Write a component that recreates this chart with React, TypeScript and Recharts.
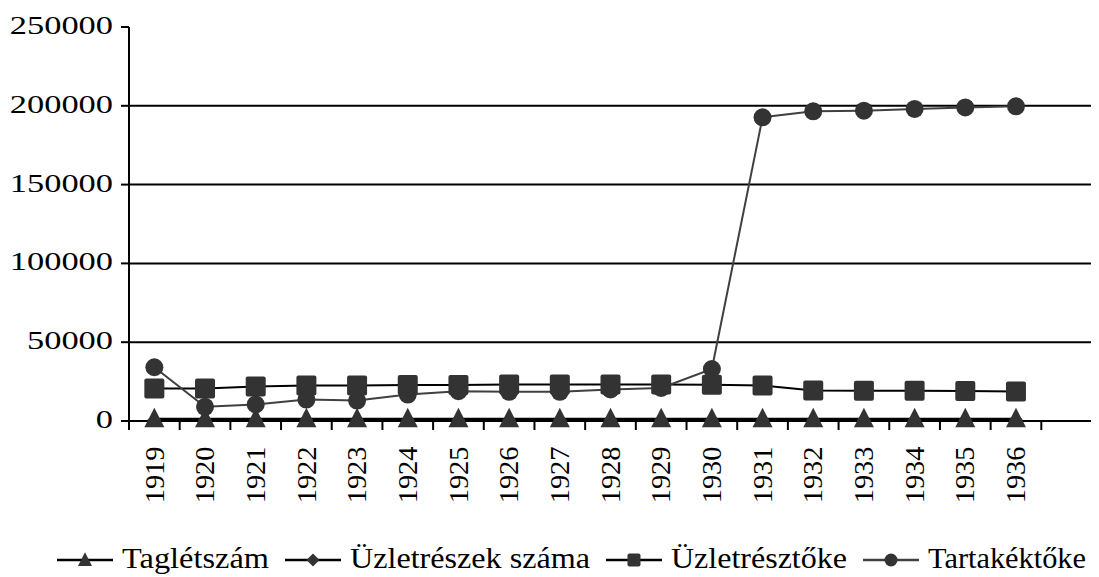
import { LineChart, Line, XAxis, YAxis, ReferenceLine, Legend } from "recharts"

const FONT = "'Liberation Serif', 'Times New Roman', serif"

const YEARS = [
  "1919", "1920", "1921", "1922", "1923", "1924", "1925", "1926", "1927",
  "1928", "1929", "1930", "1931", "1932", "1933", "1934", "1935", "1936", "",
]
const TAGLETSZAM = [1400, 1400, 1400, 1400, 1400, 1400, 1400, 1400, 1400, 1400, 1400, 1400, 1400, 1400, 1400, 1400, 1400, 1400]
const UZLETRESZEK = [600, 600, 600, 600, 600, 600, 600, 600, 600, 600, 600, 600, 600, 600, 600, 600, 600, 600]
const UZLETRESZTOKE = [20600, 20600, 21900, 22500, 22600, 22800, 22900, 23100, 23100, 23200, 23200, 23000, 22600, 19300, 19200, 19200, 19100, 18700]
const TARTAKEKTOKE = [34100, 9000, 10500, 13600, 13000, 16800, 18900, 18500, 18500, 20000, 21000, 33000, 192700, 196500, 196900, 198000, 199000, 199700]
const Y_TICKS = [0, 50000, 100000, 150000, 200000, 250000]
const GRID_VALUES = [50000, 100000, 150000, 200000]

const CHART_W = 1091
const CHART_H = 569
const MARGIN = { top: 19, right: 7, left: 0, bottom: 35 }
const YAXIS_W = 121
const XAXIS_H = 121
const PLOT_W = CHART_W - MARGIN.left - MARGIN.right - YAXIS_W
const PLOT_BOTTOM = CHART_H - MARGIN.bottom - XAXIS_H
const BAND = PLOT_W / YEARS.length

const data = YEARS.map((year, i) => ({
  year,
  tag: TAGLETSZAM[i] ?? null,
  uzl: UZLETRESZEK[i] ?? null,
  tok: UZLETRESZTOKE[i] ?? null,
  tar: TARTAKEKTOKE[i] ?? null,
}))

type Shape = "triangle" | "diamond" | "square" | "circle"

function Marker({ shape, cx, cy, s }: { shape: Shape; cx: number; cy: number; s: number }) {
  const fill = "#333333"
  if (shape === "triangle")
    return <polygon points={`${cx},${cy - 1.1 * s} ${cx - s},${cy + 0.85 * s} ${cx + s},${cy + 0.85 * s}`} fill={fill} />
  if (shape === "diamond")
    return <polygon points={`${cx},${cy - s} ${cx + s},${cy} ${cx},${cy + s} ${cx - s},${cy}`} fill={fill} />
  if (shape === "square")
    return <rect x={cx - s} y={cy - s} width={2 * s} height={2 * s} rx={2} fill={fill} />
  return <circle cx={cx} cy={cy} r={s} fill={fill} />
}

// textW = width the legend label takes in the reference
const SERIES: { key: string; name: string; shape: Shape; stroke: string; size: number; legendSize: number; textW: number }[] = [
  { key: "tag", name: "Taglétszám", shape: "triangle", stroke: "#000", size: 10, legendSize: 7, textW: 147 },
  { key: "uzl", name: "Üzletrészek száma", shape: "diamond", stroke: "#000", size: 7, legendSize: 6.5, textW: 240 },
  { key: "tok", name: "Üzletrésztőke", shape: "square", stroke: "#000", size: 10, legendSize: 6.5, textW: 176 },
  { key: "tar", name: "Tartakéktőke", shape: "circle", stroke: "#404040", size: 9, legendSize: 6.5, textW: 158 },
]

const makeDot = (shape: Shape, size: number) => (props: any) => {
  const { cx, cy, index } = props
  if (cx == null || cy == null || props.value == null) return <g key={`${shape}-${index}`} />
  return (
    <g key={`${shape}-${index}`}>
      <Marker shape={shape} cx={cx} cy={cy} s={size} />
    </g>
  )
}

const YTick = (props: any) => {
  const { x, y, payload } = props
  const label = String(payload.value)
  return (
    <text
      x={x}
      y={y}
      dy={7}
      textAnchor="end"
      fontSize={25}
      fontFamily={FONT}
      fill="#000"
      textLength={17.2 * label.length}
      lengthAdjust="spacingAndGlyphs"
    >
      {label}
    </text>
  )
}

const XTick = (props: any) => {
  const { x, payload, index } = props
  const ty = PLOT_BOTTOM + 25.5
  const last = index === YEARS.length - 1
  const label = String(payload.value)
  return (
    <g>
      <line x1={x - BAND / 2} y1={PLOT_BOTTOM} x2={x - BAND / 2} y2={PLOT_BOTTOM + 9} stroke="#000" strokeWidth={2} />
      {last && <line x1={x + BAND / 2} y1={PLOT_BOTTOM} x2={x + BAND / 2} y2={PLOT_BOTTOM + 9} stroke="#000" strokeWidth={2} />}
      {label && (
        <text
          x={x}
          y={ty}
          dy="0.34em"
          textAnchor="end"
          fontSize={27}
          fontFamily={FONT}
          fill="#000"
          textLength={14.2 * label.length}
          lengthAdjust="spacingAndGlyphs"
          transform={`rotate(-90, ${x}, ${ty})`}
        >
          {label}
        </text>
      )}
    </g>
  )
}

const ICON_W = 56
const LegendContent = () => {
  let cursor = 0
  const items = SERIES.map((s) => {
    const ix = cursor
    const tx = ix + ICON_W + 9
    cursor = tx + s.textW + 16
    return (
      <g key={s.key}>
        <line x1={ix} y1={17} x2={ix + ICON_W} y2={17} stroke={s.stroke} strokeWidth={2.5} />
        <Marker shape={s.shape} cx={ix + ICON_W / 2} cy={17} s={s.legendSize} />
        <text
          x={tx}
          y={25}
          fontSize={30}
          fontFamily={FONT}
          fill="#000"
          textLength={s.textW}
          lengthAdjust="spacingAndGlyphs"
        >
          {s.name}
        </text>
      </g>
    )
  })
  return (
    <svg width={1060} height={40} style={{ display: "block", overflow: "visible" }}>
      {items}
    </svg>
  )
}

export default function App() {
  return (
    <div style={{ width: CHART_W, height: CHART_H }}>
      <LineChart width={CHART_W} height={CHART_H} data={data} margin={MARGIN}>
        <XAxis
          dataKey="year"
          scale="band"
          interval={0}
          height={XAXIS_H}
          tickLine={false}
          axisLine={{ stroke: "#000", strokeWidth: 2 }}
          tick={XTick}
        />
        <YAxis
          type="number"
          domain={[0, 250000]}
          ticks={Y_TICKS}
          interval={0}
          width={YAXIS_W}
          tickSize={8}
          tickMargin={8}
          tickLine={{ stroke: "#000", strokeWidth: 2 }}
          axisLine={{ stroke: "#000", strokeWidth: 2 }}
          tick={YTick}
        />
        {GRID_VALUES.map((v) => (
          <ReferenceLine key={v} y={v} stroke="#000" strokeWidth={2} />
        ))}
        {SERIES.map((s) => (
          <Line
            key={s.key}
            type="linear"
            dataKey={s.key}
            name={s.name}
            stroke={s.stroke}
            strokeWidth={2}
            dot={makeDot(s.shape, s.size)}
            activeDot={false}
            isAnimationActive={false}
          />
        ))}
        <Legend
          layout="horizontal"
          verticalAlign="middle"
          align="center"
          content={LegendContent}
          wrapperStyle={{ left: 49, top: 535, width: 1060 }}
        />
      </LineChart>
    </div>
  )
}
